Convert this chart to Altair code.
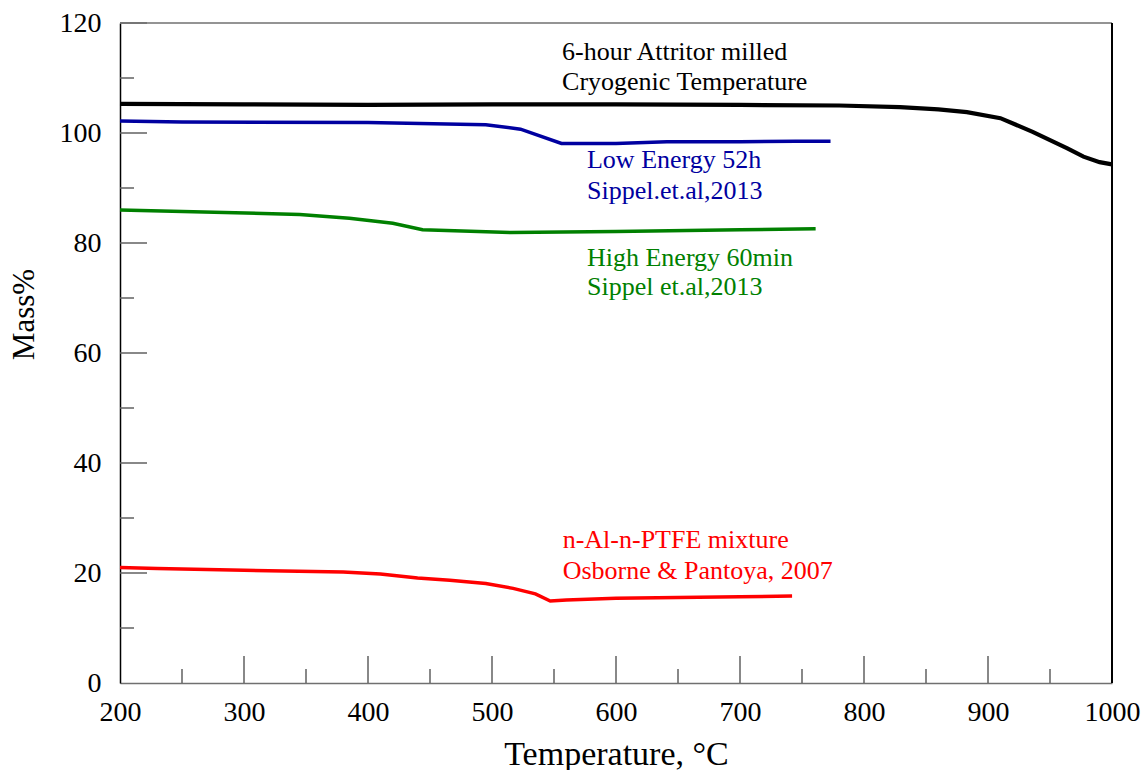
import altair as alt
import pandas as pd

# ---- data ----
black_T = [200, 300, 400, 500, 600, 700, 780, 829, 860, 883, 910, 936, 964, 977, 990, 1000]
black_M = [105.3, 105.2, 105.1, 105.2, 105.2, 105.1, 105.0, 104.7, 104.3, 103.8, 102.7, 100.2, 97.2, 95.7, 94.7, 94.3]

blue_T = [200, 250, 400, 495, 523, 556, 600, 641, 700, 745, 773]
blue_M = [102.2, 102.0, 101.9, 101.5, 100.7, 98.1, 98.1, 98.4, 98.4, 98.5, 98.5]

green_T = [200, 345, 385, 420, 444, 515, 600, 700, 761]
green_M = [86.0, 85.2, 84.5, 83.6, 82.4, 81.9, 82.1, 82.4, 82.6]

red_T = [200, 230, 300, 380, 410, 440, 466, 495, 517, 535, 547, 560, 600, 700, 742]
red_M = [21.0, 20.8, 20.5, 20.2, 19.8, 19.1, 18.7, 18.1, 17.2, 16.2, 14.9, 15.1, 15.4, 15.7, 15.8]

series_names = ["attritor", "low", "high", "ptfe"]
series_colors = ["#000000", "#0000A0", "#008000", "#FF0000"]

label_text = ["6-hour Attritor milled", "Cryogenic Temperature",
              "Low Energy 52h", "Sippel.et.al,2013",
              "High Energy 60min", "Sippel et.al,2013",
              "n-Al-n-PTFE mixture", "Osborne & Pantoya, 2007"]
label_series = ["attritor", "attritor", "low", "low", "high", "high", "ptfe", "ptfe"]
label_T = [556.5, 556.5, 576.6, 576.6, 576.6, 576.6, 557.0, 557.0]
label_M = [113.3, 107.9, 93.6, 88.0, 75.8, 70.5, 24.5, 18.9]

x_major = [300, 400, 500, 600, 700, 800, 900]
x_minor = [250, 350, 450, 550, 650, 750, 850, 950]
y_major = [20, 40, 60, 80, 100, 120]
y_minor = [10, 30, 50, 70, 90, 110]
x_labels = [200, 300, 400, 500, 600, 700, 800, 900, 1000]
y_labels = [0, 20, 40, 60, 80, 100, 120]

# ---- tables ----
rows = []
for name, Ts, Ms in zip(series_names, [black_T, blue_T, green_T, red_T],
                        [black_M, blue_M, green_M, red_M]):
    for i, (t, m) in enumerate(zip(Ts, Ms)):
        rows.append({"series": name, "T": t, "M": m, "order": i})
lines_df = pd.DataFrame(rows)
labels_df = pd.DataFrame({"text": label_text, "series": label_series,
                          "T": label_T, "M": label_M})

W, H = 992, 660
FONT = "Liberation Serif"
TICK = "#606060"
LABEL_SIZE = 28

xscale = alt.Scale(domain=[200, 1000], nice=False, zero=False)
yscale = alt.Scale(domain=[0, 120], nice=False, zero=False)
cscale = alt.Scale(domain=series_names, range=series_colors)

x_axis = alt.Axis(values=x_labels, format="d", title="Temperature, °C", grid=False,
                  ticks=False, labelFont=FONT, labelFontSize=LABEL_SIZE,
                  labelColor="black", labelPadding=15, labelFlush=False,
                  labelOverlap=False,
                  domainColor="#707070", domainWidth=1.5,
                  titleFont=FONT, titleFontSize=34, titleFontWeight="normal",
                  titleColor="black", titleY=81, titleBaseline="alphabetic")
y_axis = alt.Axis(values=y_labels, format="d", title="Mass%", grid=False,
                  ticks=False, labelFont=FONT, labelFontSize=LABEL_SIZE,
                  labelColor="black", labelPadding=19, labelFlush=False,
                  labelOverlap=False,
                  domainColor="black", domainWidth=1.5,
                  titleFont=FONT, titleFontSize=31, titleFontWeight="normal",
                  titleColor="black", titleAngle=270, titleX=-87,
                  titleY=291, titleBaseline="alphabetic", titleAlign="center")


def X():
    return alt.X("T:Q", scale=xscale, axis=x_axis, title="Temperature, °C")


def Y():
    return alt.Y("M:Q", scale=yscale, axis=y_axis, title="Mass%")


lines = alt.Chart(lines_df).mark_line().encode(
    x=X(), y=Y(),
    color=alt.Color("series:N", scale=cscale, legend=None),
    detail="series:N", order="order:Q",
    strokeWidth=alt.condition(alt.datum.series == "attritor", alt.value(4.2), alt.value(3.5)),
)

texts = alt.Chart(labels_df).mark_text(align="left", baseline="alphabetic",
                                       font=FONT, fontSize=26).encode(
    x=X(), y=Y(),
    text="text:N",
    color=alt.Color("series:N", scale=cscale, legend=None),
)

xmaj = alt.Chart(pd.DataFrame({"T": x_major})).mark_rule(color=TICK, strokeWidth=1.5).encode(
    x=X(), y=alt.value(H), y2=alt.value(H - 27))
xmin = alt.Chart(pd.DataFrame({"T": x_minor})).mark_rule(color=TICK, strokeWidth=1.5).encode(
    x=X(), y=alt.value(H), y2=alt.value(H - 14))
ymaj = alt.Chart(pd.DataFrame({"M": y_major})).mark_rule(color=TICK, strokeWidth=1.5).encode(
    y=Y(), x=alt.value(0), x2=alt.value(27))
ymin = alt.Chart(pd.DataFrame({"M": y_minor})).mark_rule(color=TICK, strokeWidth=1.5).encode(
    y=Y(), x=alt.value(0), x2=alt.value(14))

top_border = alt.Chart(pd.DataFrame({"a": [0]})).mark_rule(color="#707070", strokeWidth=1.5).encode(
    x=alt.value(0), x2=alt.value(W), y=alt.value(0))
right_border = alt.Chart(pd.DataFrame({"a": [0]})).mark_rule(color="black", strokeWidth=2).encode(
    x=alt.value(W), y=alt.value(0), y2=alt.value(H))

chart = alt.layer(lines, xmaj, xmin, ymaj, ymin, texts, top_border, right_border).properties(
    width=W, height=H,
    autosize=alt.AutoSizeParams(type="none"),
    padding={"left": 120, "top": 23, "right": 34, "bottom": 87},
    background="white",
).configure_view(stroke=None)

chart.save("out.html", embed_options={"renderer": "svg", "actions": False})
